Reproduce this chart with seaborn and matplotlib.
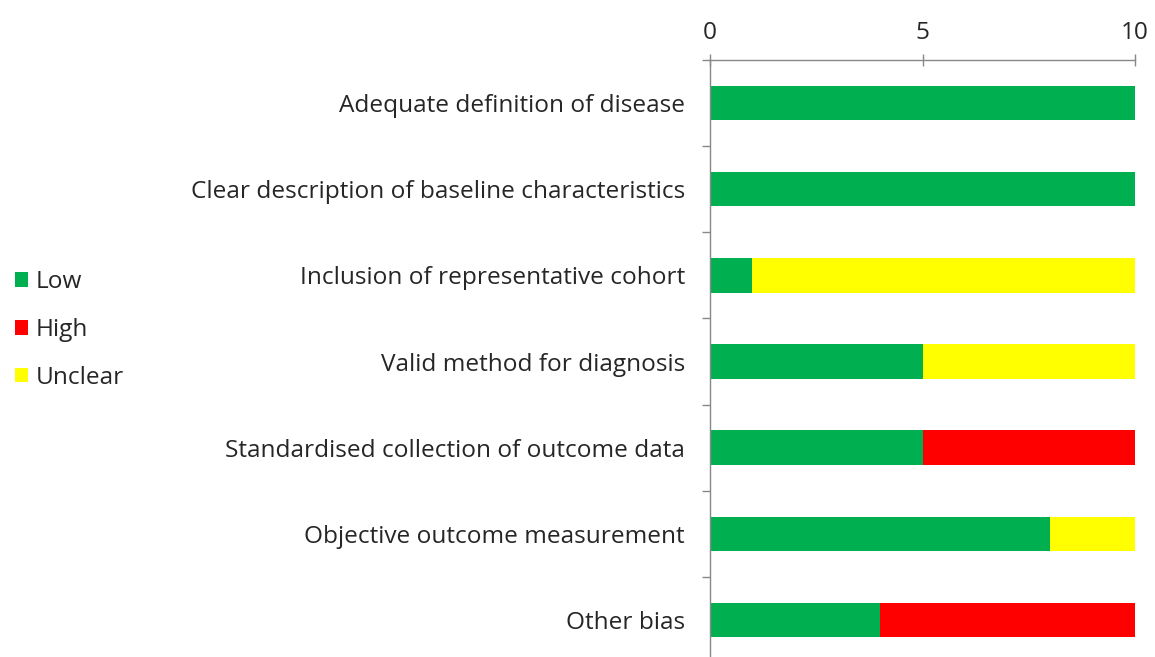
import matplotlib
matplotlib.use("Agg")
import matplotlib.pyplot as plt
import seaborn as sns
import pandas as pd
import numpy as np
from matplotlib.patches import Patch

categories = [
    "Adequate definition of disease",
    "Clear description of baseline characteristics",
    "Inclusion of representative cohort",
    "Valid method for diagnosis",
    "Standardised collection of outcome data",
    "Objective outcome measurement",
    "Other bias",
]
low = [10, 10, 1, 5, 5, 8, 4]
high = [0, 0, 0, 0, 5, 0, 6]
unclear = [0, 0, 9, 5, 0, 2, 0]
series_names = ["Low", "High", "Unclear"]
colors = {"Low": "#00B050", "High": "#FF0000", "Unclear": "#FFFF00"}
xticks = [0, 5, 10]

sns.set_theme(style="white")
plt.rcParams["font.family"] = ["Open Sans", "DejaVu Sans"]

FS = 17.55

df = pd.DataFrame({"category": categories, "Low": low, "High": high, "Unclear": unclear})
df["c_low"] = df["Low"]
df["c_high"] = df["Low"] + df["High"]
df["c_unclear"] = df["Low"] + df["High"] + df["Unclear"]

fig = plt.figure(figsize=(11.55, 6.57), dpi=100)
ax = fig.add_axes([710 / 1155, 0.0, 425 / 1155, 1 - 60 / 657])

for col, name in [("c_unclear", "Unclear"), ("c_high", "High"), ("c_low", "Low")]:
    sns.barplot(data=df, x=col, y="category", orient="h", color=colors[name],
                saturation=1, width=0.4, ax=ax, edgecolor="none", linewidth=0)

ax.set_xlim(0, 10)
ax.set_ylim(6.43, -0.5)
ax.set_xlabel("")
ax.set_ylabel("")
ax.xaxis.tick_top()
ax.set_xticks(xticks)
ax.tick_params(axis="x", direction="inout", length=9, width=1, color="#888888",
               pad=6, labelsize=FS, labelcolor="#262626")
ax.set_yticks(range(len(categories)))
ax.set_yticks(np.arange(-0.5, len(categories) - 0.5, 1), minor=True)
ax.tick_params(axis="y", which="major", length=0, pad=18, labelsize=FS, labelcolor="#262626")
ax.tick_params(axis="y", which="minor", left=True, direction="out", length=6, width=1, color="#888888")

for s in ["right", "bottom"]:
    ax.spines[s].set_visible(False)
for s in ["top", "left"]:
    ax.spines[s].set_color("#888888")
    ax.spines[s].set_linewidth(1)

handles = [Patch(facecolor=colors[n], edgecolor="none", label=n) for n in series_names]
fig.legend(handles=handles, loc="center left", bbox_to_anchor=(15 / 1155, 0.498), frameon=False,
           fontsize=FS, handlelength=0.55, handleheight=0.55, handletextpad=0.3,
           labelspacing=0.98, borderpad=0, borderaxespad=0, labelcolor="#262626")

fig.savefig("out.png", dpi=100)
